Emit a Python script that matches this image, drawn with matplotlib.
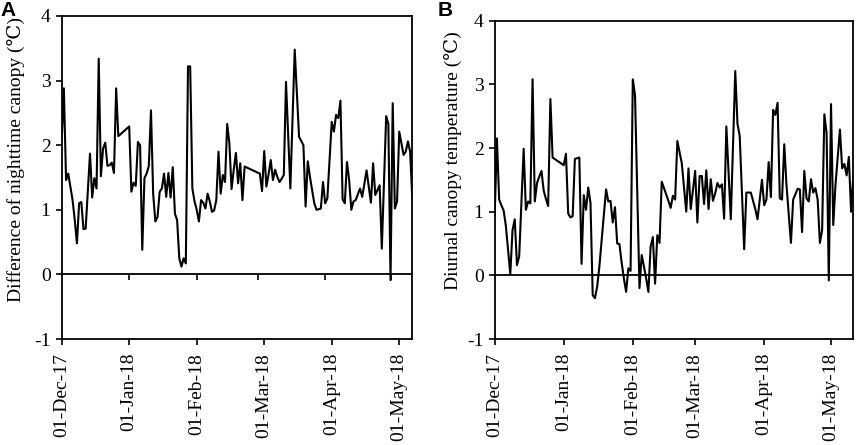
"""Two-panel canopy temperature time series (A: nighttime difference, B: diurnal)."""
import matplotlib
matplotlib.use("Agg")
import matplotlib.pyplot as plt

plt.rcParams["font.family"] = ["Liberation Serif", "DejaVu Serif"]

# days since 01-Dec-17 and values
A_DAYS = [0, 1, 2, 3, 4, 5, 6, 7, 8, 9, 10, 11, 12, 13, 14, 15, 16, 17, 18, 19,
          20, 21, 22, 23, 24, 25, 26, 31, 32, 33, 34, 35, 36, 37, 38, 39, 40,
          41, 42, 43, 44, 45, 46, 47, 48, 49, 50, 51, 52, 53, 54, 55, 56, 57,
          58, 59, 60, 61, 62, 63, 64, 65, 66, 67, 68, 69, 70, 71, 72, 73, 74,
          75, 76, 77, 78, 79, 80, 81, 82, 83, 84, 91, 92, 93, 94, 95, 96, 97,
          98, 99, 100, 101, 102, 103, 105, 107, 109, 111, 112, 113, 114, 116,
          117, 119, 120, 121, 122, 124, 125, 126, 127, 128, 129, 130, 131, 132,
          133, 134, 135, 137, 138, 140, 142, 143, 144, 146, 147, 149, 150, 151,
          152, 153, 154, 155, 156, 157, 158, 159, 160, 161]
A_VALUES = [2.08, 2.88, 1.46, 1.56, 1.36, 1.15, 0.84, 0.48, 1.10, 1.12, 0.70,
            0.71, 1.30, 1.87, 1.19, 1.49, 1.33, 3.34, 1.52, 1.95, 2.04, 1.68,
            1.69, 1.73, 1.57, 2.88, 2.14, 2.29, 1.28, 1.42, 1.37, 2.05, 2.00,
            0.38, 1.49, 1.56, 1.68, 2.54, 1.25, 0.82, 0.89, 1.28, 1.33, 1.56,
            1.20, 1.57, 1.19, 1.66, 0.94, 0.84, 0.25, 0.12, 0.25, 0.17, 3.22,
            3.22, 1.33, 1.13, 1.00, 0.82, 1.15, 1.11, 1.02, 1.25, 1.13, 0.97,
            0.99, 1.15, 1.90, 1.25, 1.54, 1.43, 2.33, 2.03, 1.32, 1.62, 1.88,
            1.41, 1.72, 1.15, 1.67, 1.56, 1.29, 1.91, 1.36, 1.55, 1.77, 1.46,
            1.62, 1.51, 1.43, 1.48, 1.54, 2.98, 1.33, 3.48, 2.13, 2.00, 1.05,
            1.75, 1.51, 1.10, 1.00, 1.02, 1.43, 1.10, 1.18, 2.36, 2.21, 2.47,
            2.42, 2.69, 1.16, 1.10, 1.74, 1.46, 1.00, 1.13, 1.15, 1.33, 1.20,
            1.61, 1.11, 1.72, 1.23, 1.38, 0.40, 2.45, 2.33, -0.09, 2.65, 1.02,
            1.13, 2.21, 2.03, 1.85, 1.90, 2.06, 1.90, 1.18]

B_DAYS = [0, 1, 2, 3, 4, 5, 6, 7, 8, 9, 10, 11, 12, 13, 14, 15, 16, 17, 18, 19,
          20, 21, 22, 23, 24, 25, 26, 31, 32, 33, 34, 35, 36, 37, 38, 39, 40,
          41, 42, 43, 44, 45, 46, 47, 48, 49, 50, 51, 52, 53, 54, 55, 56, 57,
          58, 59, 60, 61, 62, 63, 64, 65, 66, 67, 68, 69, 70, 71, 72, 73, 74,
          75, 76, 77, 78, 79, 80, 81, 82, 84, 86, 87, 88, 90, 91, 92, 93, 94,
          95, 96, 97, 98, 99, 100, 101, 102, 103, 104, 106, 108, 109, 110, 112,
          113, 115, 117, 118, 120, 121, 122, 123, 124, 125, 126, 127, 128, 129,
          130, 131, 133, 134, 136, 137, 138, 139, 140, 141, 142, 143, 144, 145,
          146, 147, 148, 149, 150, 151, 152, 153, 155, 156, 157, 158, 159, 160,
          161]
B_VALUES = [0.95, 2.15, 1.19, 1.10, 1.02, 0.78, 0.40, 0.02, 0.71, 0.88, 0.16,
            0.30, 1.15, 1.99, 1.03, 1.16, 1.13, 3.08, 1.16, 1.45, 1.55, 1.64,
            1.33, 1.20, 1.09, 2.77, 1.85, 1.73, 1.91, 0.97, 0.91, 0.93, 1.83,
            1.84, 1.85, 0.18, 1.26, 1.03, 1.38, 1.14, -0.31, -0.36, -0.18, 0.14,
            0.55, 0.95, 1.35, 1.16, 1.17, 0.83, 1.07, 0.50, 0.49, 0.20, -0.05,
            -0.26, 0.11, 0.07, 3.08, 2.83, 1.30, -0.20, 0.32, 0.14, -0.05, -0.26,
            0.45, 0.60, -0.13, 0.63, 0.51, 1.47, 1.37, 1.27, 1.17, 1.06, 1.25,
            1.19, 2.11, 1.76, 1.00, 1.68, 1.04, 1.64, 0.83, 1.56, 1.56, 1.12,
            1.65, 1.04, 1.51, 1.17, 1.29, 1.45, 1.38, 1.43, 0.89, 2.34, 0.88,
            3.21, 2.38, 2.19, 0.41, 1.30, 1.30, 1.04, 0.88, 1.50, 1.10, 1.19,
            1.78, 1.23, 2.60, 2.52, 2.71, 1.21, 1.19, 2.06, 1.42, 0.51, 1.19,
            1.36, 1.35, 0.68, 1.64, 1.21, 1.16, 1.51, 1.30, 1.37, 1.19, 0.51,
            0.71, 2.53, 2.24, -0.08, 2.69, 0.79, 1.42, 2.29, 1.68, 1.75, 1.57,
            1.86, 1.00, 1.56]

TICK_LABELS = ["01-Dec-17", "01-Jan-18", "01-Feb-18", "01-Mar-18", "01-Apr-18", "01-May-18"]
MONTH_STARTS = [0, 31, 62, 90, 121, 151]
A_BOTTOM_TICKS = [0, 31, 62, 93, 124, 155]
Y_TICKS = [-1, 0, 1, 2, 3, 4]


def style(ax, xticks):
    ax.set_xlim(0, 161)
    ax.set_ylim(-1, 4)
    ax.set_yticks(Y_TICKS)
    ax.set_yticklabels([str(v) for v in Y_TICKS])
    ax.set_xticks(xticks)
    ax.set_xticklabels(TICK_LABELS, rotation=90)
    ax.tick_params(direction="out", length=4, width=1.2, labelsize=14, pad=4)
    ax.tick_params(axis="x", pad=6)
    for s in ax.spines.values():
        s.set_linewidth(1.3)


fig = plt.figure(figsize=(8.58, 4.45), dpi=100, facecolor="white")

axA = fig.add_axes([61.7 / 858, 106 / 445, 350.6 / 858, 323 / 445])
axA.plot(A_DAYS, A_VALUES, color="black", linewidth=1.5)
style(axA, A_BOTTOM_TICKS)
zero = axA.secondary_xaxis(0.2)
zero.set_xticks(MONTH_STARTS[1:])
zero.set_xticklabels([])
zero.tick_params(direction="out", length=4, width=1.2)
zero.spines["bottom"].set_linewidth(1.3)
axA.set_ylabel("Difference of nighttime canopy (\u2103)", fontsize=14)
axA.yaxis.set_label_coords(-0.105, 0.555)

axB = fig.add_axes([494.7 / 858, 106 / 445, 358.6 / 858, 318.3 / 445])
axB.axhline(0, color="black", linewidth=1.3)
axB.plot(B_DAYS, B_VALUES, color="black", linewidth=1.5)
style(axB, MONTH_STARTS)
axB.set_ylabel("Diurnal canopy temperature (\u2103)", fontsize=14)
axB.yaxis.set_label_coords(-0.09, 0.56)

fig.text(0.0, 0.998, "A", fontsize=15, fontweight="bold", family="Liberation Sans", va="top", ha="left")
fig.text(438 / 858, 0.998, "B", fontsize=15, fontweight="bold", family="Liberation Sans", va="top", ha="left")

fig.savefig("out.png", dpi=100, facecolor="white")
